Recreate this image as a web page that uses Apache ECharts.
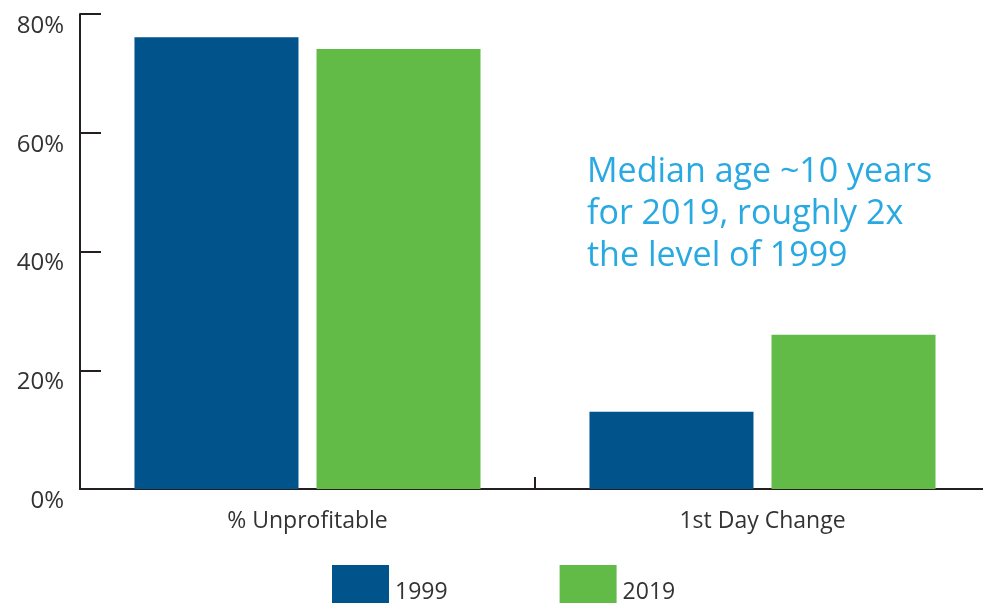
<!DOCTYPE html>
<html><head><meta charset="utf-8">
<script src="https://cdn.jsdelivr.net/npm/echarts@6/dist/echarts.min.js"></script>
<style>html,body{margin:0;padding:0;background:#fff}#c{width:983px;height:604px}</style>
</head><body><div id="c"></div>
<script>
var categories = ['% Unprofitable', '1st Day Change'];
var series1999 = [76.1, 13.0];
var series2019 = [74.1, 26.0];
var yTicks = [0, 20, 40, 60, 80];
var noteLines = ['Median age ~10 years', 'for 2019, roughly 2x', 'the level of 1999'];

var chart = echarts.init(document.getElementById('c'));
var axisColor = '#231f20';
var font = 'Open Sans';
chart.setOption({
  animation: false,
  grid: {left: 80, width: 910, top: 14, height: 475, containLabel: false, outerBoundsMode: 'none'},
  legend: {
    data: ['1999', '2019'], left: 332, top: 565, padding: 0,
    itemWidth: 57, itemHeight: 38, itemGap: 112, icon: 'rect',
    formatter: '{a|{name}}',
    textStyle: {fontFamily: font, fontSize: 23, color: '#333',
      rich: {a: {fontFamily: font, fontSize: 23, color: '#333', padding: [16, 0, 0, 1]}}}
  },
  xAxis: {
    type: 'category', data: categories,
    axisLine: {lineStyle: {color: axisColor, width: 2}},
    axisTick: {show: true, alignWithLabel: false, inside: true, length: 12, lineStyle: {color: axisColor, width: 2}},
    axisLabel: {fontFamily: font, fontSize: 23, color: '#333', margin: 21}
  },
  yAxis: {
    type: 'value', min: yTicks[0], max: yTicks[yTicks.length - 1], interval: 20,
    splitLine: {show: false},
    axisLine: {show: true, lineStyle: {color: axisColor, width: 2}},
    axisTick: {show: true, inside: true, length: 21, lineStyle: {color: axisColor, width: 2}},
    axisLabel: {formatter: '{value}%', fontFamily: font, fontSize: 24, color: '#333', margin: 16, verticalAlign: 'top'}
  },
  series: [
    {name: '1999', type: 'bar', data: series1999, barWidth: 164, barGap: '11%', itemStyle: {color: '#00538b'}},
    {name: '2019', type: 'bar', data: series2019, barWidth: 164, itemStyle: {color: '#62bb46'}}
  ],
  graphic: [{
    type: 'text', left: 587, top: 151,
    style: {text: noteLines.join('\n'), fontFamily: font, fontSize: 34, lineHeight: 42, fill: '#29a9e1'}
  }]
});
</script></body></html>
